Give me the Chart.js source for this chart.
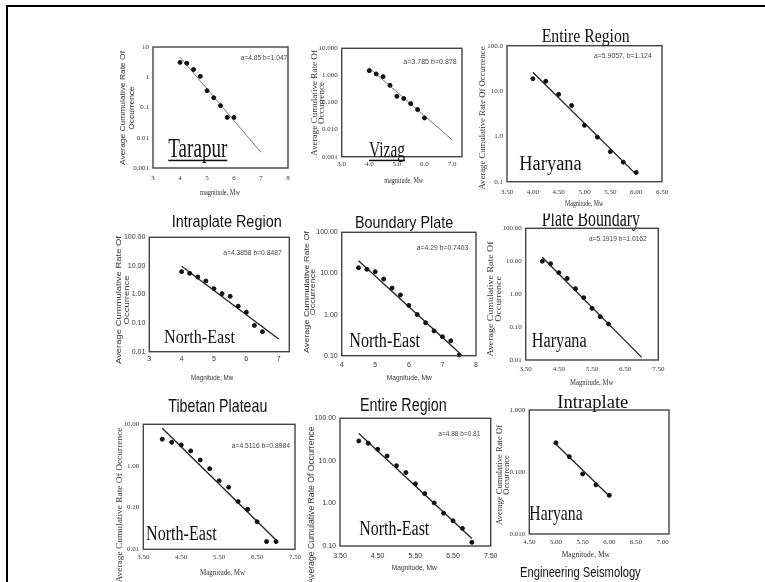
<!doctype html>
<html lang="en">
<head>
<meta charset="utf-8">
<title>Frequency-magnitude plots</title>
<script src="https://cdn.jsdelivr.net/npm/chart.js"></script>
<style>
  body { margin: 0; background: #fff; }
  #page { position: relative; width: 765px; height: 582px; overflow: hidden; background: #fff; }
  #page canvas { position: absolute; left: 0; top: 0; }
  .frame-top { position: absolute; left: 6px; top: 5px; width: 759px; height: 2px; background: #000; }
  .frame-left { position: absolute; left: 6px; top: 5px; width: 2px; height: 577px; background: #000; }
</style>
</head>
<body>
<div id="page">
  <div class="frame-top"></div>
  <div class="frame-left"></div>
</div>
<script>
const FAM = {
  sans: '"Liberation Sans", Arial, sans-serif',
  serif: '"Liberation Serif", "Times New Roman", serif'
};

// Tarapur
const tarapurMag = [4.0, 4.25, 4.5, 4.75, 5.0, 5.25, 5.5, 5.75, 6.0];
const tarapurRate = [3.1, 2.9, 1.8, 1.07, 0.36, 0.21, 0.115, 0.047, 0.047];
const tarapurFitMag = [4.0, 7.0];
const tarapurFitRate = [4.6, 0.0033];
const tarapurXTicks = [3, 4, 5, 6, 7, 8];
const tarapurYTicks = [0.001, 0.01, 0.1, 1, 10];

// Vizag
const vizagMag = [4.0, 4.25, 4.5, 4.75, 5.0, 5.25, 5.5, 5.75, 6.0];
const vizagRate = [1.5, 1.13, 0.9, 0.43, 0.17, 0.14, 0.091, 0.055, 0.027];
const vizagFitMag = [4.0, 7.0];
const vizagFitRate = [1.87, 0.0042];
const vizagXTicks = [3, 4, 5, 6, 7];
const vizagYTicks = [0.001, 0.01, 0.1, 1, 10];

// Haryana - entire region
const harEntireMag = [4.0, 4.25, 4.5, 4.75, 5.0, 5.25, 5.5, 5.75, 6.0];
const harEntireRate = [18.7, 16.4, 8.45, 4.8, 1.75, 0.96, 0.46, 0.27, 0.16];
const harEntireFitMag = [4.0, 6.0];
const harEntireFitRate = [26, 0.145];
const harEntireXTicks = [3.5, 4.0, 4.5, 5.0, 5.5, 6.0, 6.5];
const harEntireYTicks = [0.1, 1, 10, 100];

// North-East - intraplate region
const neIntraMag = [4.0, 4.25, 4.5, 4.75, 5.0, 5.25, 5.5, 5.75, 6.0, 6.25, 6.5];
const neIntraRate = [6.3, 5.5, 4.1, 2.96, 1.6, 1.07, 0.86, 0.39, 0.24, 0.083, 0.05];
const neIntraFitMag = [4.0, 7.0];
const neIntraFitRate = [9.8, 0.028];
const neIntraXTicks = [3, 4, 5, 6, 7];
const neIntraYTicks = [0.01, 0.1, 1, 10, 100];

// North-East - boundary plate
const neBoundMag = [4.5, 4.75, 5.0, 5.25, 5.5, 5.75, 6.0, 6.25, 6.5, 6.75, 7.0, 7.25, 7.5];
const neBoundRate = [13.8, 12.6, 11, 7.3, 4.4, 3.0, 1.67, 1.0, 0.63, 0.4, 0.29, 0.23, 0.104];
const neBoundFitMag = [4.5, 7.5];
const neBoundFitRate = [20.4, 0.118];
const neBoundXTicks = [4, 5, 6, 7, 8];
const neBoundYTicks = [0.1, 1, 10, 100];

// Haryana - plate boundary
const harBoundMag = [4.0, 4.25, 4.5, 4.75, 5.0, 5.25, 5.5, 5.75, 6.0];
const harBoundRate = [10, 8.4, 4.5, 3.0, 1.47, 0.78, 0.37, 0.207, 0.124];
const harBoundFitMag = [4.0, 7.0];
const harBoundFitRate = [13.2, 0.012];
const harBoundXTicks = [3.5, 4.5, 5.5, 6.5, 7.5];
const harBoundYTicks = [0.01, 0.1, 1, 10, 100];

// North-East - Tibetan plateau
const neTibetMag = [4.0, 4.25, 4.5, 4.75, 5.0, 5.25, 5.5, 5.75, 6.0, 6.25, 6.5, 6.75, 7.0];
const neTibetRate = [4.4, 3.7, 3.2, 2.3, 1.39, 0.86, 0.44, 0.31, 0.14, 0.091, 0.046, 0.0153, 0.0153];
const neTibetFitMag = [4.0, 7.0];
const neTibetFitRate = [8.0, 0.0168];
const neTibetXTicks = [3.5, 4.5, 5.5, 6.5, 7.5];
const neTibetYTicks = [0.01, 0.1, 1, 10];

// North-East - entire region
const neEntireMag = [4.0, 4.25, 4.5, 4.75, 5.0, 5.25, 5.5, 5.75, 6.0, 6.25, 6.5, 6.75, 7.0];
const neEntireRate = [29.4, 25.9, 18.7, 13, 7.7, 5.3, 2.9, 1.7, 1.03, 0.59, 0.39, 0.26, 0.122];
const neEntireFitMag = [4.0, 7.0];
const neEntireFitRate = [44, 0.15];
const neEntireXTicks = [3.5, 4.5, 5.5, 6.5, 7.5];
const neEntireYTicks = [0.1, 1, 10, 100];

// Haryana - intraplate
const harIntraMag = [5.0, 5.25, 5.5, 5.75, 6.0];
const harIntraRate = [0.295, 0.177, 0.093, 0.062, 0.042];
const harIntraFitMag = [5.0, 6.0];
const harIntraFitRate = [0.28, 0.041];
const harIntraXTicks = [4.5, 5.0, 5.5, 6.0, 6.5, 7.0];
const harIntraYTicks = [0.01, 0.1, 1];

const Y2 = ['Average Cumulative Rate Of', 'Occurrence'];
const Y2b = ['Average Cummulative Rate Of', 'Occurrence'];
const Y1 = ['Average Cumulative Rate Of Occurrence'];

// layout of each panel: plot box [left, top, right, bottom] in page pixels
const panels = [
  { mag: tarapurMag, rate: tarapurRate, fitMag: tarapurFitMag, fitRate: tarapurFitRate,
    xTicks: tarapurXTicks, yTicks: tarapurYTicks, xRange: [3, 8], yRange: [0.001, 10],
    box: [153, 47, 288, 168], xDec: null, yDec: null, tick: 'serif', xPad: 6, thin: true,
    ytitle: { lines: Y2b, xs: [123, 131.3], cy: 108, size: 8, f: 'sans', w: 114 },
    texts: [
      { s: 'a=4.85 b=1.047', x: 240.7, y: 60.3, size: 8, f: 'sans', w: 46.6, c: '#444' },
      { s: 'Tarapur', x: 168.3, y: 156.7, size: 27, f: 'serif', w: 59, u: true },
      { s: 'magnitude, Mw', x: 200, y: 194.7, size: 8, f: 'serif', w: 40, c: '#333' }
    ] },
  { mag: vizagMag, rate: vizagRate, fitMag: vizagFitMag, fitRate: vizagFitRate,
    xTicks: vizagXTicks, yTicks: vizagYTicks, xRange: [3, 7.36], yRange: [0.001, 10],
    box: [341.7, 48.3, 462, 156.7], xDec: 1, yDec: 3, tick: 'serif', xPad: 3.6, thin: true,
    ytitle: { lines: Y2, xs: [315, 322.3], cy: 103, size: 8, f: 'serif', w: 106 },
    texts: [
      { s: 'a=3.785 b=0.878', x: 403.3, y: 64, size: 8, f: 'sans', w: 53.4, c: '#444' },
      { s: 'Vizag', x: 369, y: 156.7, size: 23, f: 'serif', w: 36, u: true },
      { s: 'magnitude, Mw', x: 384.3, y: 183, size: 8, f: 'serif', w: 39, c: '#333' }
    ] },
  { mag: harEntireMag, rate: harEntireRate, fitMag: harEntireFitMag, fitRate: harEntireFitRate,
    xTicks: harEntireXTicks, yTicks: harEntireYTicks, xRange: [3.5, 6.5], yRange: [0.1, 100],
    box: [507, 45.7, 662, 181.7], xDec: 2, yDec: 1, tick: 'serif', xPad: 6,
    ytitle: { lines: Y1, xs: [483.3], cy: 118, size: 8, f: 'serif', w: 143 },
    texts: [
      { s: 'Entire Region', x: 541.7, y: 41.7, size: 19, f: 'serif', w: 88 },
      { s: 'a=5.9057, b=1.124', x: 594, y: 58, size: 8, f: 'sans', w: 57.7, c: '#444' },
      { s: 'Haryana', x: 519.3, y: 170, size: 20, f: 'serif', w: 62.4 },
      { s: 'Magnitude, Mw', x: 565, y: 206, size: 8, f: 'serif', w: 38.3, c: '#333' }
    ] },
  { mag: neIntraMag, rate: neIntraRate, fitMag: neIntraFitMag, fitRate: neIntraFitRate,
    xTicks: neIntraXTicks, yTicks: neIntraYTicks, xRange: [3, 7.33], yRange: [0.01, 100],
    box: [149.3, 237.3, 289.3, 351.7], xDec: null, yDec: 2, tick: 'sans', xPad: 3.6,
    ytitle: { lines: Y2b, xs: [119, 126.5], cy: 300, size: 8, f: 'sans', w: 128 },
    texts: [
      { s: 'Intraplate Region', x: 171.7, y: 227.3, size: 17, f: 'sans', w: 110 },
      { s: 'a=4.3858 b=0.8487', x: 223.3, y: 254.7, size: 8, f: 'sans', w: 58.4, c: '#444' },
      { s: 'North-East', x: 164, y: 342.7, size: 18, f: 'serif', w: 71 },
      { s: 'Magnitude, Mw', x: 191, y: 379.7, size: 8, f: 'sans', w: 42.3, c: '#333' }
    ] },
  { mag: neBoundMag, rate: neBoundRate, fitMag: neBoundFitMag, fitRate: neBoundFitRate,
    xTicks: neBoundXTicks, yTicks: neBoundYTicks, xRange: [4, 8], yRange: [0.1, 100],
    box: [341.7, 232.3, 476, 355.7], xDec: null, yDec: 2, tick: 'sans', xPad: 5.3,
    ytitle: { lines: Y2b, xs: [306.7, 312.7], cy: 292, size: 8, f: 'sans', w: 122 },
    texts: [
      { s: 'Boundary Plate', x: 355, y: 228.3, size: 17, f: 'sans', w: 98.3 },
      { s: 'a=4.29 b=0.7403', x: 416.7, y: 249.7, size: 8, f: 'sans', w: 51.6, c: '#444' },
      { s: 'North-East', x: 349.3, y: 346.7, size: 20, f: 'serif', w: 70.7 },
      { s: 'Magnitude, Mw', x: 386.7, y: 379.7, size: 8, f: 'sans', w: 45, c: '#333' }
    ] },
  { mag: harBoundMag, rate: harBoundRate, fitMag: harBoundFitMag, fitRate: harBoundFitRate,
    xTicks: harBoundXTicks, yTicks: harBoundYTicks, xRange: [3.5, 7.5], yRange: [0.01, 100],
    box: [525.7, 228.3, 658.3, 360], xDec: 2, yDec: 2, tick: 'serif', xPad: 5.3,
    ytitle: { lines: Y2, xs: [491, 499.3], cy: 299, size: 8, f: 'serif', w: 115 },
    texts: [
      { s: 'Plate Boundary', x: 541.7, y: 226, size: 24, f: 'serif', w: 98.3, clip: 213.5 },
      { s: 'a=5.1919 b=1.0162', x: 589, y: 241.3, size: 8, f: 'sans', w: 57.7, c: '#444' },
      { s: 'Haryana', x: 531.7, y: 346.7, size: 20, f: 'serif', w: 55 },
      { s: 'Magnitude, Mw', x: 570, y: 384.7, size: 8, f: 'serif', w: 43.3, c: '#333' }
    ] },
  { mag: neTibetMag, rate: neTibetRate, fitMag: neTibetFitMag, fitRate: neTibetFitRate,
    xTicks: neTibetXTicks, yTicks: neTibetYTicks, xRange: [3.5, 7.5], yRange: [0.01, 10],
    box: [143.3, 424.3, 295, 549.3], xDec: 2, yDec: 2, tick: 'serif', xPad: 3.4,
    ytitle: { lines: Y1, xs: [119.3], cy: 505, size: 8.5, f: 'serif', w: 155 },
    texts: [
      { s: 'Tibetan Plateau', x: 168.3, y: 411.7, size: 18.5, f: 'sans', w: 99 },
      { s: 'a=4.5116 b=0.8984', x: 231.7, y: 448, size: 8, f: 'sans', w: 58.3, c: '#444' },
      { s: 'North-East', x: 146, y: 540, size: 20, f: 'serif', w: 70.7 },
      { s: 'Magnitude, Mw', x: 200, y: 574.7, size: 8, f: 'serif', w: 45, c: '#333' }
    ] },
  { mag: neEntireMag, rate: neEntireRate, fitMag: neEntireFitMag, fitRate: neEntireFitRate,
    xTicks: neEntireXTicks, yTicks: neEntireYTicks, xRange: [3.5, 7.5], yRange: [0.1, 100],
    box: [340, 418.3, 490.7, 546], xDec: 2, yDec: 2, tick: 'sans', xPad: 5.7,
    ytitle: { lines: Y1, xs: [311.7], cy: 505, size: 8.5, f: 'sans', w: 157 },
    texts: [
      { s: 'Entire Region', x: 360, y: 410.7, size: 19, f: 'sans', w: 86.7 },
      { s: 'a=4.88 b=0.81', x: 438.3, y: 435.7, size: 8, f: 'sans', w: 42, c: '#444' },
      { s: 'North-East', x: 359.3, y: 535, size: 20, f: 'serif', w: 70 },
      { s: 'Magnitude, Mw', x: 391.7, y: 569.7, size: 8, f: 'sans', w: 45, c: '#333' }
    ] },
  { mag: harIntraMag, rate: harIntraRate, fitMag: harIntraFitMag, fitRate: harIntraFitRate,
    xTicks: harIntraXTicks, yTicks: harIntraYTicks, xRange: [4.5, 7.12], yRange: [0.01, 1],
    box: [529.3, 410, 669, 534], xDec: 2, yDec: 3, tick: 'serif', xPad: 3.7,
    ytitle: { lines: Y2, xs: [500, 506.7], cy: 475, size: 8, f: 'serif', w: 100 },
    texts: [
      { s: 'Intraplate', x: 557.3, y: 408.3, size: 19, f: 'serif', w: 71 },
      { s: 'Haryana', x: 529.3, y: 520, size: 21, f: 'serif', w: 53.4 },
      { s: 'Magnitude, Mw', x: 561.7, y: 557, size: 8, f: 'serif', w: 48.3, c: '#333' },
      { s: 'Engineering Seismology', x: 520, y: 577.3, size: 15, f: 'sans', w: 120.7 }
    ] }
];

const pts = (xs, ys) => xs.map((x, i) => ({ x: x, y: ys[i] }));
const fmt = d => v => (d == null ? String(v) : Number(v).toFixed(d));

function drawText(ctx, t) {
  ctx.save();
  if (t.clip) {
    ctx.beginPath();
    ctx.rect(0, t.clip, 765, 582);
    ctx.clip();
  }
  ctx.font = t.size + 'px ' + FAM[t.f];
  ctx.fillStyle = t.c || '#111';
  const m = ctx.measureText(t.s).width;
  ctx.translate(t.x, t.y);
  ctx.scale(t.w ? t.w / m : 1, 1);
  ctx.textAlign = 'left';
  ctx.textBaseline = 'alphabetic';
  ctx.fillText(t.s, 0, 0);
  if (t.u) ctx.fillRect(0, 3, m, 1.5);
  ctx.restore();
}

function drawYTitle(ctx, yt) {
  ctx.save();
  ctx.font = yt.size + 'px ' + FAM[yt.f];
  ctx.fillStyle = '#333';
  const sx = yt.w / ctx.measureText(yt.lines[0]).width;
  yt.lines.forEach((s, i) => {
    ctx.save();
    ctx.translate(yt.xs[i], yt.cy);
    ctx.rotate(-Math.PI / 2);
    ctx.scale(sx, 1);
    ctx.textAlign = 'center';
    ctx.textBaseline = 'middle';
    ctx.fillText(s, 0, 0);
    ctx.restore();
  });
  ctx.restore();
}

function extras(p) {
  return {
    id: 'extras',
    afterDraw(chart) {
      const ctx = chart.ctx, a = chart.chartArea;
      ctx.save();
      ctx.strokeStyle = '#444';
      ctx.lineWidth = 1.4;
      ctx.strokeRect(a.left, a.top, a.right - a.left, a.bottom - a.top);
      ctx.restore();
      p.texts.forEach(t => drawText(ctx, t));
      drawYTitle(ctx, p.ytitle);
    }
  };
}

function makeChart(p) {
  const cv = document.createElement('canvas');
  cv.width = 765;
  cv.height = 582;
  document.getElementById('page').appendChild(cv);
  const [L, T, R, B] = p.box;
  const YW = 30, XH = 22;
  const tickFont = { family: FAM[p.tick], size: 7 };
  new Chart(cv, {
    type: 'scatter',
    data: {
      datasets: [
        { data: pts(p.mag, p.rate), pointRadius: 2, pointHoverRadius: 2,
          backgroundColor: '#111', borderColor: '#111', clip: 6 },
        { data: pts(p.fitMag, p.fitRate), showLine: true, pointRadius: 0,
          borderColor: p.thin ? '#777' : '#222', borderWidth: p.thin ? 1 : 1.3 }
      ]
    },
    options: {
      responsive: false,
      animation: false,
      devicePixelRatio: 1,
      events: [],
      layout: { padding: { left: L - YW, top: T, right: 765 - R, bottom: 582 - B - XH } },
      plugins: { legend: { display: false }, tooltip: { enabled: false } },
      scales: {
        x: {
          type: 'linear', min: p.xRange[0], max: p.xRange[1], bounds: 'data',
          grid: { display: false, drawTicks: false }, border: { display: false },
          ticks: { font: tickFont, color: '#333', padding: p.xPad, autoSkip: false,
                   maxRotation: 0, callback: fmt(p.xDec) },
          afterBuildTicks: s => { s.ticks = p.xTicks.map(v => ({ value: v })); },
          afterFit: s => { s.height = XH; }
        },
        y: {
          type: 'logarithmic', min: p.yRange[0], max: p.yRange[1], bounds: 'data',
          grid: { display: false, drawTicks: false }, border: { display: false },
          ticks: { font: tickFont, color: '#333', padding: 4, autoSkip: false,
                   callback: fmt(p.yDec) },
          afterBuildTicks: s => { s.ticks = p.yTicks.map(v => ({ value: v })); },
          afterFit: s => { s.width = YW; }
        }
      }
    },
    plugins: [extras(p)]
  });
}

panels.forEach(makeChart);
</script>
</body>
</html>
